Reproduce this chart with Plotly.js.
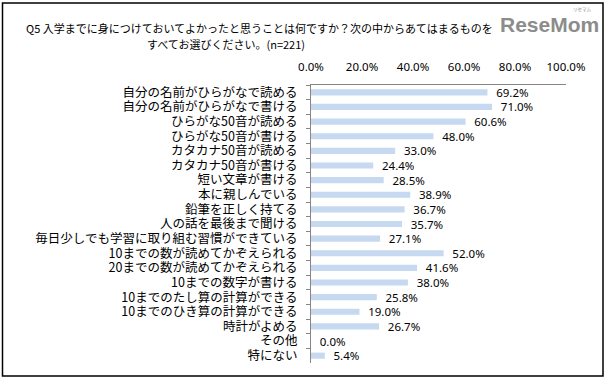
<!DOCTYPE html>
<html><head><meta charset="utf-8">
<script src="https://cdn.plot.ly/plotly-3.0.1.min.js"></script>
<style>html,body{margin:0;padding:0;background:#fff}#c{width:607px;height:382px}</style>
</head><body><div id="c"></div>
<script>
const categories = [
  "自分の名前がひらがなで読める",
  "自分の名前がひらがなで書ける",
  "ひらがな50音が読める",
  "ひらがな50音が書ける",
  "カタカナ50音が読める",
  "カタカナ50音が書ける",
  "短い文章が書ける",
  "本に親しんでいる",
  "鉛筆を正しく持てる",
  "人の話を最後まで聞ける",
  "毎日少しでも学習に取り組む習慣ができている",
  "10までの数が読めてかぞえられる",
  "20までの数が読めてかぞえられる",
  "10までの数字が書ける",
  "10までのたし算の計算ができる",
  "10までのひき算の計算ができる",
  "時計がよめる",
  "その他",
  "特にない"
];
const values = [69.2, 71.0, 60.6, 48.0, 33.0, 24.4, 28.5, 38.9, 36.7, 35.7, 27.1, 52.0, 41.6, 38.0, 25.8, 19.0, 26.7, 0.0, 5.4];
const tickVals = [0, 20, 40, 60, 80, 100];
const tickText = ["0.0%", "20.0%", "40.0%", "60.0%", "80.0%", "100.0%"];
const titleLine1 = "Q5 入学までに身につけておいてよかったと思うことは何ですか？次の中からあてはまるものを";
const titleLine2 = "すべてお選びください。(n=221)";

const W = 607, H = 382;
const L = 311, R = 566, T = 85, B = 363;
const px = x => (x - L) / (R - L);
const py = y => (B - y) / (B - T);
const jp = '"Noto Sans CJK JP", "Noto Sans", sans-serif';
const num = '"Noto Sans", "Open Sans", sans-serif';

const trace = {
  type: 'bar', orientation: 'h',
  y: categories, x: values,
  marker: {color: '#C6D9F1', line: {width: 0}},
  width: 0.42,
  text: values.map(v => '\u2002' + v.toFixed(1) + '%'),
  textposition: 'outside',
  constraintext: 'none',
  cliponaxis: false,
  textfont: {family: num, size: 11.5, color: '#000'},
  hoverinfo: 'none'
};

const layout = {
  width: W, height: H,
  margin: {l: L, r: W - R, t: T, b: H - B, pad: 0},
  paper_bgcolor: '#fff', plot_bgcolor: '#fff',
  showlegend: false,
  bargap: 0.58,
  uniformtext: {mode: false},
  xaxis: {
    side: 'top', range: [0, 100], tickvals: tickVals, ticktext: tickText,
    showgrid: false, zeroline: false, showline: true, linecolor: '#868686', linewidth: 1,
    ticks: '', ticklabelstandoff: 8,
    tickfont: {family: num, size: 11.5, color: '#000'}, fixedrange: true
  },
  yaxis: {
    autorange: 'reversed', type: 'category',
    tickmode: 'linear', dtick: 1, tick0: 0,
    showgrid: false, zeroline: false, showline: true, linecolor: '#868686', linewidth: 1,
    ticks: 'outside', ticklen: 4, tickcolor: '#868686', tickson: 'boundaries',
    ticklabelstandoff: 10,
    tickfont: {family: jp, size: 12.5, color: '#000'}, fixedrange: true
  },
  annotations: [
    {xref: 'paper', yref: 'paper', x: px(259), y: py(28), text: titleLine1, showarrow: false,
     xanchor: 'center', yanchor: 'middle', font: {family: jp, size: 11, color: '#000'}},
    {xref: 'paper', yref: 'paper', x: px(226), y: py(44), text: titleLine2, showarrow: false,
     xanchor: 'center', yanchor: 'middle', font: {family: jp, size: 11, color: '#000'}},
    {xref: 'paper', yref: 'paper', x: px(549), y: py(24), text: '<b>ReseMom</b>', showarrow: false,
     xanchor: 'center', yanchor: 'middle', font: {family: '"Liberation Sans", Arial, sans-serif', size: 21, color: '#8c8c8c'}},
    {xref: 'paper', yref: 'paper', x: px(582), y: py(10), text: 'リセマム', showarrow: false,
     xanchor: 'center', yanchor: 'middle', font: {family: jp, size: 4.5, color: '#8c8c8c'}}
  ],
  shapes: [
    {type: 'rect', xref: 'paper', yref: 'paper', x0: px(2.5), x1: px(603), y0: py(3), y1: py(376),
     line: {color: '#000', width: 1.5}, fillcolor: 'rgba(0,0,0,0)'}
  ]
};

Plotly.newPlot('c', [trace], layout, {displayModeBar: false, staticPlot: true});
</script>
</body></html>
